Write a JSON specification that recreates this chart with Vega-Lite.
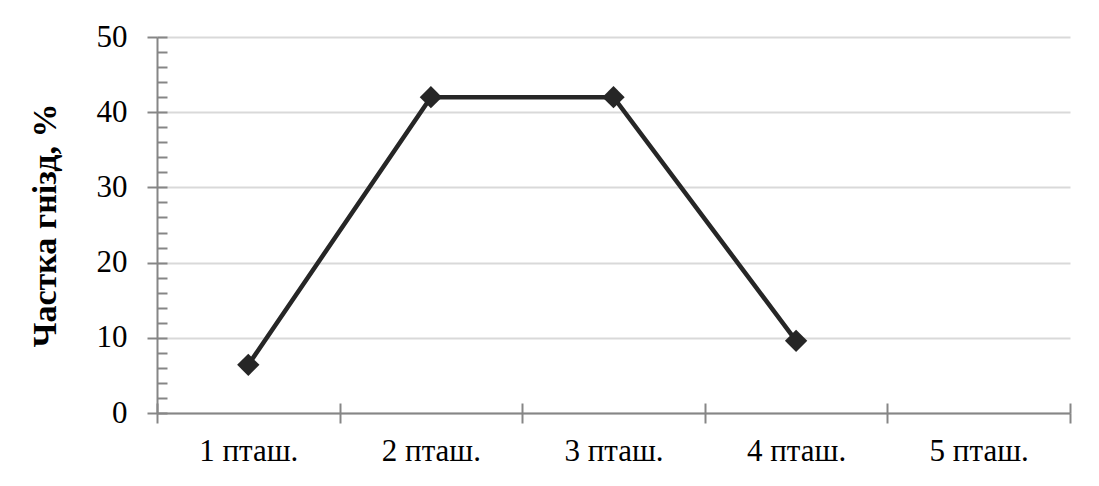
{
  "$schema": "https://vega.github.io/schema/vega-lite/v6.json",
  "width": 913,
  "height": 376,
  "autosize": {"type": "none"},
  "padding": {"left": 157, "top": 37, "right": 29, "bottom": 73},
  "background": "white",
  "config": {
    "view": {"stroke": null},
    "font": "Liberation Serif"
  },
  "data": {
    "values": [
      {"cat": "1 пташ.", "share": 6.4},
      {"cat": "2 пташ.", "share": 42.0},
      {"cat": "3 пташ.", "share": 42.0},
      {"cat": "4 пташ.", "share": 9.6}
    ]
  },
  "encoding": {
    "x": {
      "field": "cat",
      "type": "nominal",
      "scale": {"type": "band", "domain": ["1 пташ.", "2 пташ.", "3 пташ.", "4 пташ.", "5 пташ."], "paddingInner": 0, "paddingOuter": 0}
    },
    "y": {
      "field": "share",
      "type": "quantitative",
      "scale": {"domain": [0, 50], "nice": false, "zero": true}
    }
  },
  "layer": [
    {
      "mark": {"type": "line", "color": "#262626", "strokeWidth": 4.5},
      "encoding": {
        "x": {
          "field": "cat", "type": "nominal",
          "axis": {
            "orient": "bottom", "title": null, "labelAngle": 0,
            "tickBand": "extent", "grid": false,
            "domainColor": "#868686", "domainWidth": 2,
            "tickColor": "#868686", "tickWidth": 2, "tickSize": 10,
            "labelFont": "Liberation Serif", "labelFontSize": 31, "labelColor": "#000000",
            "labelPadding": 13, "labelOverlap": false
          }
        },
        "y": {
          "field": "share", "type": "quantitative",
          "axis": {
            "orient": "left", "values": [0, 10, 20, 30, 40, 50],
            "title": "Частка гнізд, %",
            "titleFont": "Liberation Serif", "titleFontSize": 34, "titleFontWeight": "bold", "titleColor": "#000000",
            "titlePadding": 34,
            "grid": true, "gridColor": "#d9d9d9", "gridWidth": 2,
            "domainColor": "#868686", "domainWidth": 2,
            "tickColor": "#868686", "tickWidth": 2, "tickSize": 10,
            "labelFont": "Liberation Serif", "labelFontSize": 31, "labelColor": "#000000",
            "labelPadding": 20, "labelOverlap": false
          }
        }
      }
    },
    {
      "mark": {"type": "point", "shape": "diamond", "filled": true, "color": "#262626", "size": 500, "opacity": 1},
      "encoding": {
        "x": {
          "field": "cat", "type": "nominal",
          "axis": {
            "orient": "bottom", "title": null, "labels": false, "domain": false,
            "tickBand": "extent", "grid": false,
            "tickColor": "#868686", "tickWidth": 2, "tickSize": -10
          }
        },
        "y": {
          "field": "share", "type": "quantitative",
          "axis": {
            "orient": "left", "title": null, "labels": false, "domain": false, "grid": false,
            "values": [0, 2, 4, 6, 8, 10, 12, 14, 16, 18, 20, 22, 24, 26, 28, 30, 32, 34, 36, 38, 40, 42, 44, 46, 48, 50],
            "tickColor": "#868686", "tickWidth": 2, "tickSize": -10
          }
        }
      }
    }
  ],
  "resolve": {"axis": {"x": "independent", "y": "independent"}}
}
